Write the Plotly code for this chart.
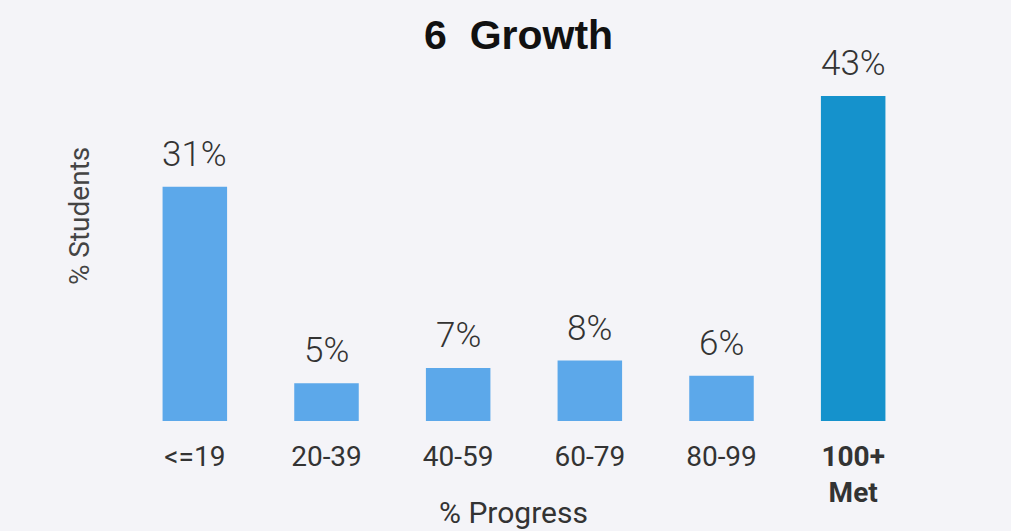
import plotly.graph_objects as go

categories = ["<=19", "20-39", "40-59", "60-79", "80-99", "<b>100+</b><br><b>Met</b>"]
values = [31, 5, 7, 8, 6, 43]
value_labels = ["31%", "5%", "7%", "8%", "6%", "43%"]
bar_colors = ["#5ca8ea", "#5ca8ea", "#5ca8ea", "#5ca8ea", "#5ca8ea", "#1592cc"]

LABEL_FONT = "Roboto, Arial, sans-serif"

fig = go.Figure(
    go.Bar(
        x=categories,
        y=values,
        marker=dict(color=bar_colors, line=dict(width=0)),
        width=0.49,
        hoverinfo="skip",
    )
)

# value labels sitting above each bar
for cat, val, lab in zip(categories, values, value_labels):
    fig.add_annotation(
        x=cat,
        y=val,
        text=lab,
        showarrow=False,
        yanchor="bottom",
        yshift=10,
        font=dict(family=LABEL_FONT, size=35, color="#333333", weight=300),
    )

# axis titles
fig.add_annotation(
    xref="paper", yref="paper", x=0.487, y=0, yanchor="middle", yshift=-91,
    text="% Progress", showarrow=False,
    font=dict(family=LABEL_FONT, size=30, color="#333333"),
)
fig.add_annotation(
    xref="paper", yref="paper", x=-0.0633, y=0.542, xanchor="center", yanchor="middle",
    text="% Students", textangle=-90, showarrow=False,
    font=dict(family=LABEL_FONT, size=28, color="#444444"),
)

fig.update_layout(
    width=1011,
    height=531,
    margin=dict(l=129, r=92, t=43, b=110),
    paper_bgcolor="#f4f4f8",
    plot_bgcolor="#f4f4f8",
    showlegend=False,
    title=dict(
        text="<b>6  Growth</b>",
        x=0.513,
        xanchor="center",
        y=0.935,
        yanchor="middle",
        font=dict(family="Liberation Sans, Arial, sans-serif", size=41, color="#111111"),
    ),
    xaxis=dict(
        automargin=False,
        showgrid=False,
        showline=False,
        zeroline=False,
        ticks="",
        ticklabelstandoff=16,
        tickfont=dict(family=LABEL_FONT, size=28, color="#333333"),
    ),
    yaxis=dict(
        automargin=False,
        range=[0, 50],
        showgrid=False,
        showline=False,
        zeroline=False,
        showticklabels=False,
        ticks="",
    ),
)

fig.write_html("out.html")
